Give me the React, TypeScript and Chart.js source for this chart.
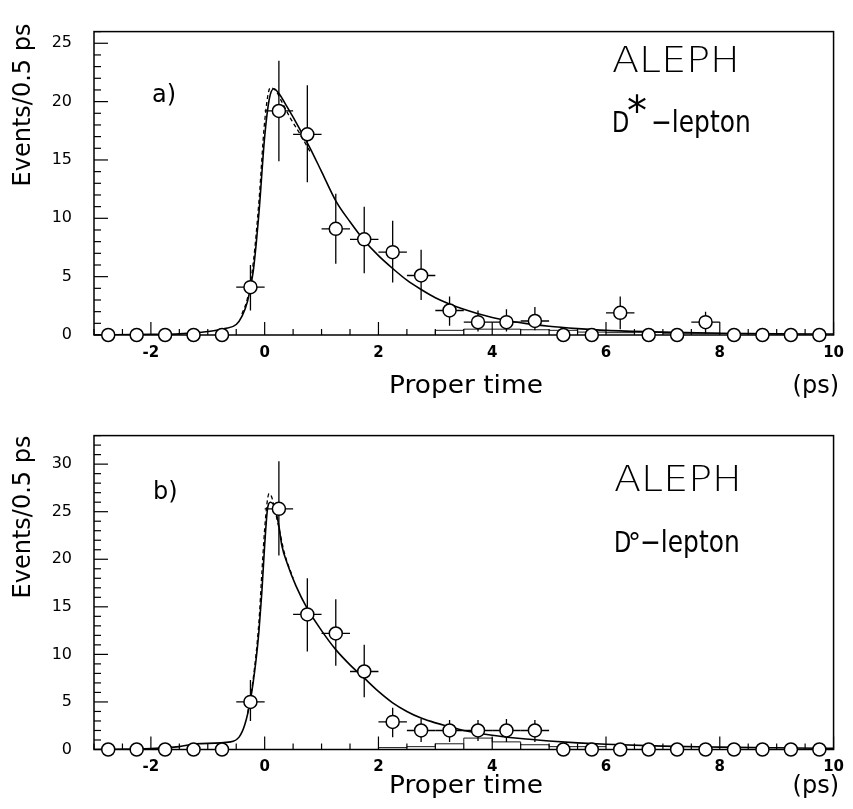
import React, { useEffect, useRef } from "react";
import { Chart, registerables } from "chart.js";
Chart.register(...registerables);

const FONT = "'DejaVu Sans', sans-serif";

// ---------- shared ----------
const binCenters = [-2.75, -2.25, -1.75, -1.25, -0.75, -0.25, 0.25, 0.75, 1.25, 1.75, 2.25, 2.75, 3.25, 3.75, 4.25, 4.75, 5.25, 5.75, 6.25, 6.75, 7.25, 7.75, 8.25, 8.75, 9.25, 9.75];
const xTickLabels = [-2, 0, 2, 4, 6, 8, 10];

// ---------- panel a: D*-lepton ----------
const eventsA = [0, 0, 0, 0, 0, 4.1, 19.2, 17.2, 9.1, 8.2, 7.1, 5.1, 2.1, 1.1, 1.1, 1.2, 0, 0, 1.9, 0, 0, 1.1, 0, 0, 0, 0];
const errLoA = [0, 0, 0, 0, 0, 2.1, 14.9, 13.1, 6.1, 5.3, 4.5, 3.0, 0.8, 0.3, 0.3, 0.4, 0, 0, 0.5, 0, 0, 0.1, 0, 0, 0, 0];
const errHiA = [0, 0, 0, 0, 0, 6.0, 23.5, 21.4, 12.1, 11.0, 9.8, 7.3, 3.3, 2.1, 2.2, 2.4, 0, 0, 3.3, 0, 0, 2.0, 0, 0, 0, 0];
const fitXA = [-3, -2, -1.5, -1.0, -0.7, -0.5, -0.4, -0.3, -0.2, -0.1, 0, 0.08, 0.16, 0.25, 0.4, 0.6, 0.8, 1.0, 1.25, 1.5, 1.75, 2.0, 2.25, 2.5, 2.75, 3.0, 3.5, 4.0, 4.5, 5.0, 5.5, 6.0, 7.0, 8.0, 9.0, 10.0];
const fitYA = [0, 0.05, 0.1, 0.3, 0.55, 0.9, 1.6, 2.9, 5.5, 10.5, 17.0, 20.2, 21.1, 20.7, 19.5, 17.8, 16.0, 14.0, 11.5, 9.7, 8.1, 6.8, 5.7, 4.7, 3.9, 3.2, 2.2, 1.5, 1.05, 0.75, 0.55, 0.4, 0.25, 0.15, 0.1, 0.08];
const fitDashXA = [-0.4, -0.3, -0.2, -0.1, 0, 0.1, 0.2, 0.3, 0.45, 0.6, 0.8];
const fitDashYA = [1.8, 3.2, 6.2, 11.5, 18.3, 21.2, 20.9, 20.0, 18.6, 17.4, 15.7];
const bkgEdgesA = [3.0, 3.5, 4.0, 4.5, 5.0, 5.5, 6.0, 6.5, 7.0, 7.5, 8.0];
const bkgA = [0.1, 0.4, 0.5, 0.5, 0.45, 0.4, 0.25, 0.2, 0.25, 0.15, 0.15];
const yTicksA = [0, 5, 10, 15, 20, 25];

// ---------- panel b: D0-lepton ----------
const eventsB = [0, 0, 0, 0, 0, 5.0, 25.3, 14.2, 12.2, 8.2, 2.9, 2.0, 2.0, 2.0, 2.0, 2.0, 0, 0, 0, 0, 0, 0, 0, 0, 0, 0];
const errLoB = [0, 0, 0, 0, 0, 3.0, 20.4, 10.3, 8.8, 5.5, 1.3, 0.8, 0.8, 0.9, 0.8, 0.8, 0, 0, 0, 0, 0, 0, 0, 0, 0, 0];
const errHiB = [0, 0, 0, 0, 0, 7.3, 30.3, 18.0, 15.8, 11.0, 4.4, 3.2, 3.1, 3.1, 3.2, 3.1, 0, 0, 0, 0, 0, 0, 0, 0, 0, 0];
const fitXB = [-3, -2, -1.5, -1.2, -0.6, -0.45, -0.35, -0.25, -0.15, -0.1, -0.05, 0, 0.05, 0.1, 0.18, 0.25, 0.3, 0.4, 0.55, 0.75, 1.0, 1.25, 1.5, 1.75, 2.0, 2.25, 2.5, 2.75, 3.0, 3.25, 3.5, 4.0, 4.5, 5.0, 5.5, 6.0, 7.0, 8.0, 9.0, 10.0];
const fitYB = [0, 0.1, 0.3, 0.6, 0.8, 1.3, 2.6, 5.2, 9.5, 12.5, 16.5, 21.5, 25.3, 26.0, 25.4, 23.5, 21.5, 19.5, 17.2, 14.8, 12.5, 10.5, 8.9, 7.5, 6.1, 4.9, 4.0, 3.3, 2.8, 2.4, 2.0, 1.5, 1.15, 0.9, 0.7, 0.55, 0.35, 0.25, 0.18, 0.12];
const fitDashXB = [-0.3, -0.2, -0.1, -0.05, 0, 0.05, 0.08, 0.12, 0.18, 0.25, 0.35, 0.5];
const fitDashYB = [3.8, 7.5, 13.5, 18.5, 23.2, 26.3, 26.9, 26.6, 25.2, 23.3, 20.6, 18.0];
const bkgEdgesB = [2.0, 2.5, 3.0, 3.5, 4.0, 4.5, 5.0, 5.5, 6.0];
const bkgB = [0.1, 0.2, 0.3, 0.6, 1.2, 0.8, 0.5, 0.3, 0.3];
const yTicksB = [0, 5, 10, 15, 20, 25, 30];

type TextItem = {
  text: string;
  x: number;
  y: number;
  size: number;
  sx?: number;
  weight?: number;
  align?: CanvasTextAlign;
  rotate?: boolean;
};

type Panel = {
  height: number;
  padTop: number;
  xAxisHeight: number;
  yMax: number;
  yTicks: number[];
  events: number[];
  errLo: number[];
  errHi: number[];
  fitX: number[];
  fitY: number[];
  dashX: number[];
  dashY: number[];
  bkgX: number[];
  bkgY: number[];
  texts: TextItem[];
};

function makePlugin(p: Panel) {
  return {
    id: "decor",
    beforeDatasetsDraw(chart: any) {
      const { ctx, chartArea: a, scales } = chart;
      const xs = scales.x;
      const ys = scales.y;
      ctx.save();
      ctx.strokeStyle = "#000";
      ctx.lineWidth = 1.5;
      ctx.strokeRect(a.left, a.top, a.right - a.left, a.bottom - a.top);
      // inner ticks, y
      ctx.lineWidth = 1.2;
      for (let v = 0; v <= ys.max + 1e-9; v += 1) {
        const py = ys.getPixelForValue(v);
        const len = v % 5 === 0 ? 14 : 7;
        ctx.beginPath();
        ctx.moveTo(a.left, py);
        ctx.lineTo(a.left + len, py);
        ctx.stroke();
      }
      // inner ticks, x
      for (let v = xs.min; v <= xs.max + 1e-9; v += 0.5) {
        const px = xs.getPixelForValue(v);
        const len = Math.abs(v % 2) < 1e-9 ? 13 : 6;
        ctx.beginPath();
        ctx.moveTo(px, a.bottom);
        ctx.lineTo(px, a.bottom - len);
        ctx.stroke();
      }
      // error bars
      ctx.lineWidth = 1.3;
      binCenters.forEach((c, i) => {
        if (p.events[i] <= 0) return;
        const px = xs.getPixelForValue(c);
        const py = ys.getPixelForValue(p.events[i]);
        ctx.beginPath();
        ctx.moveTo(xs.getPixelForValue(c - 0.25), py);
        ctx.lineTo(xs.getPixelForValue(c + 0.25), py);
        ctx.moveTo(px, ys.getPixelForValue(p.errLo[i]));
        ctx.lineTo(px, ys.getPixelForValue(p.errHi[i]));
        ctx.stroke();
      });
      ctx.restore();
    },
    afterDraw(chart: any) {
      const ctx = chart.ctx;
      ctx.save();
      ctx.fillStyle = "#000";
      ctx.textBaseline = "alphabetic";
      for (const t of p.texts) {
        ctx.save();
        ctx.font = `${t.weight || 400} ${t.size}px ${FONT}`;
        ctx.textAlign = t.align || "left";
        ctx.translate(t.x, t.y);
        if (t.rotate) ctx.rotate(-Math.PI / 2);
        ctx.scale(t.sx || 1, 1);
        ctx.fillText(t.text, 0, 0);
        ctx.restore();
      }
      ctx.restore();
    },
  };
}

function makeConfig(p: Panel): any {
  const pts = (xa: number[], ya: number[]) => xa.map((x, i) => ({ x, y: ya[i] }));
  return {
    type: "scatter",
    data: {
      datasets: [
        {
          label: "data",
          data: pts(binCenters, p.events),
          pointRadius: 6.5,
          pointBackgroundColor: "#fff",
          pointBorderColor: "#000",
          pointBorderWidth: 1.5,
          showLine: false,
          clip: false,
        },
        {
          label: "fit",
          data: pts(p.fitX, p.fitY),
          showLine: true,
          pointRadius: 0,
          borderColor: "#000",
          borderWidth: 1.6,
          cubicInterpolationMode: "monotone",
          fill: false,
        },
        {
          label: "fit2",
          data: pts(p.dashX, p.dashY),
          showLine: true,
          pointRadius: 0,
          borderColor: "#000",
          borderWidth: 1.3,
          borderDash: [4, 3],
          cubicInterpolationMode: "monotone",
          fill: false,
        },
        {
          label: "bkg",
          data: pts(p.bkgX, p.bkgY),
          showLine: true,
          stepped: "after",
          pointRadius: 0,
          borderColor: "#000",
          borderWidth: 0.9,
          fill: false,
        },
      ],
    },
    options: {
      animation: false,
      responsive: false,
      maintainAspectRatio: false,
      events: [],
      layout: { padding: { top: p.padTop, right: 15, left: 0, bottom: 0 } },
      plugins: { legend: { display: false }, tooltip: { enabled: false } },
      scales: {
        x: {
          type: "linear",
          min: -3,
          max: 10,
          afterBuildTicks: (s: any) => {
            s.ticks = xTickLabels.map((v) => ({ value: v }));
          },
          afterFit: (s: any) => {
            s.height = p.xAxisHeight;
          },
          grid: { display: false, drawTicks: false },
          border: { display: false },
          ticks: {
            padding: 9,
            color: "#000",
            maxRotation: 0,
            autoSkip: false,
            font: { family: FONT, size: 15, weight: "bold" },
            callback: (v: any) => String(v),
          },
        },
        y: {
          type: "linear",
          min: 0,
          max: p.yMax,
          afterBuildTicks: (s: any) => {
            s.ticks = p.yTicks.map((v) => ({ value: v }));
          },
          afterFit: (s: any) => {
            s.width = 94;
          },
          grid: { display: false, drawTicks: false },
          border: { display: false },
          ticks: {
            padding: 22,
            color: "#000",
            font: { family: FONT, size: 16 },
            callback: (v: any) => String(v),
          },
        },
      },
    },
    plugins: [makePlugin(p)],
  };
}

const panelA: Panel = {
  height: 404,
  padTop: 11,
  xAxisHeight: 69,
  yMax: 26,
  yTicks: yTicksA,
  events: eventsA,
  errLo: errLoA,
  errHi: errHiA,
  fitX: fitXA,
  fitY: fitYA,
  dashX: fitDashXA,
  dashY: fitDashYA,
  bkgX: bkgEdgesA,
  bkgY: bkgA,
  texts: [
    { text: "a)", x: 152, y: 102, size: 24 },
    { text: "ALEPH", x: 612, y: 72, size: 36, sx: 1.1, weight: 200 },
    { text: "D", x: 612, y: 132, size: 28, sx: 0.8 },
    { text: "*", x: 627, y: 125, size: 40 },
    { text: "\u2212lepton", x: 651, y: 132, size: 30, sx: 0.83 },
    { text: "Events/0.5 ps", x: 30, y: 105, size: 24, align: "center", rotate: true },
    { text: "Proper time", x: 466, y: 393, size: 24, sx: 1.1, align: "center" },
    { text: "(ps)", x: 839, y: 393, size: 24, align: "right" },
  ],
};

const panelB: Panel = {
  height: 405,
  padTop: 22,
  xAxisHeight: 59.5,
  yMax: 33,
  yTicks: yTicksB,
  events: eventsB,
  errLo: errLoB,
  errHi: errHiB,
  fitX: fitXB,
  fitY: fitYB,
  dashX: fitDashXB,
  dashY: fitDashYB,
  bkgX: bkgEdgesB,
  bkgY: bkgB,
  texts: [
    { text: "b)", x: 153, y: 95, size: 24 },
    { text: "ALEPH", x: 614, y: 87, size: 36, sx: 1.1, weight: 200 },
    { text: "D", x: 614, y: 148, size: 28, sx: 0.8 },
    { text: "\u00B0", x: 628, y: 148, size: 26 },
    { text: "\u2212lepton", x: 640, y: 148, size: 30, sx: 0.83 },
    { text: "Events/0.5 ps", x: 30, y: 113, size: 24, align: "center", rotate: true },
    { text: "Proper time", x: 466, y: 389, size: 24, sx: 1.1, align: "center" },
    { text: "(ps)", x: 839, y: 389, size: 24, align: "right" },
  ],
};

function PanelChart({ p }: { p: Panel }) {
  const ref = useRef<HTMLCanvasElement | null>(null);
  useEffect(() => {
    if (!ref.current) return;
    const chart = new Chart(ref.current, makeConfig(p));
    return () => chart.destroy();
  }, [p]);
  return (
    <canvas
      ref={ref}
      width={853}
      height={p.height}
      style={{ display: "block", width: 853, height: p.height }}
    />
  );
}

export default function App() {
  return (
    <div style={{ position: "absolute", left: 0, top: 0, width: 853, height: 809, background: "#fff" }}>
      <PanelChart p={panelA} />
      <PanelChart p={panelB} />
    </div>
  );
}
